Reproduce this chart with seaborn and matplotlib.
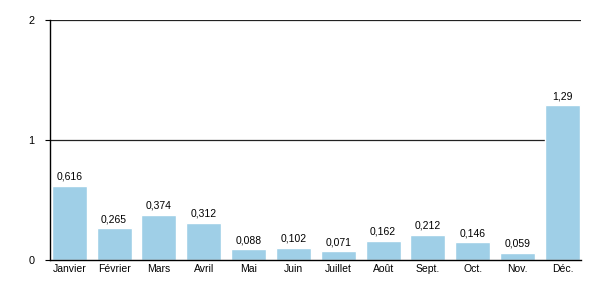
import matplotlib
matplotlib.use("Agg")
import matplotlib.pyplot as plt
import seaborn as sns
import pandas as pd

months = ["Janvier", "Février", "Mars", "Avril", "Mai", "Juin", "Juillet",
          "Août", "Sept.", "Oct.", "Nov.", "Déc."]
values = [0.616, 0.265, 0.374, 0.312, 0.088, 0.102, 0.071, 0.162, 0.212, 0.146, 0.059, 1.29]
labels = ["0,616", "0,265", "0,374", "0,312", "0,088", "0,102", "0,071",
          "0,162", "0,212", "0,146", "0,059", "1,29"]
yticks = [0, 1, 2]

sns.set_style("white")
plt.rcParams['font.family'] = ['Liberation Sans', 'DejaVu Sans']
plt.rcParams['text.color'] = 'black'
plt.rcParams['xtick.color'] = 'black'
plt.rcParams['ytick.color'] = 'black'

df = pd.DataFrame({"month": months, "value": values})
fig = plt.figure(figsize=(6, 3), dpi=100)
ax = fig.add_axes([50/600, 40/300, (580.7-50)/600, 240/300])
sns.barplot(data=df, x="month", y="value", color="#9fcfe7", width=0.78,
            saturation=1, ax=ax, zorder=2)
ax.set_ylim(0, 2)
ax.set_xlim(-0.428, 11.405)
ax.set_yticks(yticks)
ax.set_yticklabels([str(t) for t in yticks], fontsize=7.8)
for y in yticks[1:]:
    ax.axhline(y, color="#222222", lw=0.9, zorder=1)
ax.set_xlabel("")
ax.set_ylabel("")
ax.tick_params(axis="x", length=0, labelsize=7.5, pad=3)
ax.tick_params(axis="y", length=3.6, width=0.8, color="black", pad=7.5, left=True)
for s in ["top", "right"]:
    ax.spines[s].set_visible(False)
ax.spines["left"].set_color("black")
ax.spines["left"].set_linewidth(1)
ax.spines["bottom"].set_color("black")
ax.spines["bottom"].set_linewidth(1)
for p, lab in zip(ax.patches, labels):
    ax.annotate(lab, (p.get_x() + p.get_width()/2, p.get_height()),
                xytext=(0, 3), textcoords="offset points", ha="center", va="bottom",
                fontsize=7.5)
fig.savefig("out.png", dpi=100)
